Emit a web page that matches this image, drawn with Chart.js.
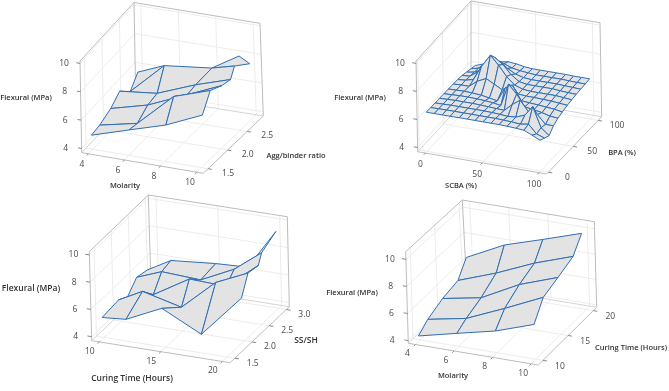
<!DOCTYPE html>
<html>
<head>
<meta charset="utf-8">
<title>Flexural surface plots</title>
<style>
  body { margin: 0; background: #fff; }
  canvas { display: block; }
</style>
<script src="https://cdn.jsdelivr.net/npm/chart.js@4"></script>
</head>
<body>
<canvas id="chart" width="669" height="391"></canvas>
<script>
'use strict';

// tick labels
const flexuralTicks = [4, 6, 8, 10];
const molarityTicks = [4, 6, 8, 10];
const aggBinderTicks = ['1.5', '2.0', '2.5'];
const scbaTicks = [0, 50, 100];
const bpaTicks = [0, 50, 100];
const curingTicks = [10, 15, 20];
const ssShTicks = ['1.5', '2.0', '2.5', '3.0'];

// top left: molarity / agg-binder ratio (rows run front to back)
const molarityA = [
  [4.02, 6.11, 8.16, 10.2],
  [4.06, 6.14, 8.17, 10.2],
  [4.12, 6.15, 8.32, 10.22],
  [4.17, 6.21, 8.31, 10.22],
  [4.53, 5.68, 8.24, 9.63]
];
const aggBinder = [
  [1.46, 1.46, 1.46, 1.46],
  [1.675, 1.675, 1.675, 1.675],
  [1.96, 1.96, 1.96, 1.96],
  [2.19, 2.19, 2.19, 2.19],
  [2.30, 2.66, 2.66, 2.58]
];
const flexuralA = [
  [4.80, 5.62, 6.41, 7.55],
  [4.95, 5.52, 7.85, 8.71],
  [5.38, 6.06, 7.25, 8.30],
  [6.00, 6.29, 7.34, 8.12],
  [5.77, 6.88, 7.26, 7.91]
];
// two small folds at the back edge of that surface
const foldLeftX = [[4.53, 5.68], [4.26, 5.68]];
const foldLeftY = [[2.30, 2.66], [2.66, 2.66]];
const foldLeftZ = [[5.77, 6.88], [6.12, 6.88]];
const foldRightX = [[8.24, 9.63], [9.72, 10.28]];
const foldRightY = [[2.66, 2.58], [2.66, 2.66]];
const foldRightZ = [[7.26, 7.91], [8.42, 8.00]];

// top right: SCBA / BPA
const scba = [0, 7, 14, 21, 29, 36, 43, 50, 57, 64, 71, 79, 86, 93, 100];
const bpa = [0, 9, 18, 27, 36, 45, 55, 64, 73, 82, 91, 100];
const flexuralB = [
  [6.49, 6.49, 6.49, 6.49, 6.50, 6.50, 6.50, 6.50, 6.50, 6.50, 6.48, 6.45, 6.40, 6.15, 5.89],
  [6.48, 6.49, 6.50, 6.50, 6.50, 6.50, 6.50, 6.50, 6.50, 6.48, 6.45, 6.40, 6.50, 5.90, 5.70],
  [6.47, 6.48, 6.50, 6.50, 6.50, 6.50, 6.50, 6.48, 6.45, 6.40, 6.45, 6.70, 7.40, 6.00, 5.54],
  [6.46, 6.48, 6.50, 6.50, 6.50, 6.48, 6.45, 6.42, 6.40, 6.90, 7.30, 6.50, 6.50, 5.90, 5.90],
  [6.45, 6.47, 6.50, 6.50, 6.48, 6.45, 6.40, 6.30, 7.90, 7.30, 6.50, 6.40, 6.30, 6.15, 6.10],
  [6.44, 6.46, 6.48, 6.45, 6.40, 6.30, 6.20, 7.20, 7.40, 6.50, 6.45, 6.40, 6.35, 6.30, 6.20],
  [6.42, 6.45, 6.45, 6.90, 7.20, 6.90, 6.60, 7.00, 6.50, 6.45, 6.45, 6.42, 6.40, 6.35, 6.30],
  [6.40, 6.45, 6.60, 7.60, 8.50, 7.90, 7.20, 6.70, 6.50, 6.45, 6.45, 6.45, 6.45, 6.40, 6.35],
  [6.35, 6.40, 6.80, 7.50, 8.00, 7.60, 7.00, 6.60, 6.50, 6.50, 6.50, 6.50, 6.45, 6.42, 6.40],
  [6.25, 6.35, 6.60, 7.00, 7.40, 7.00, 6.70, 6.55, 6.50, 6.50, 6.50, 6.50, 6.47, 6.45, 6.42],
  [6.15, 6.30, 6.50, 6.70, 6.90, 6.70, 6.60, 6.55, 6.50, 6.50, 6.50, 6.50, 6.48, 6.46, 6.45],
  [6.05, 6.25, 6.45, 6.60, 6.70, 6.65, 6.55, 6.50, 6.50, 6.50, 6.50, 6.50, 6.48, 6.48, 6.48]
];

// bottom left: curing time / SS-SH
const curingC = [
  [10.0, 11.6, 14.2, 17.0, 20.0],
  [10.0, 11.8, 14.8, 17.5, 20.0],
  [10.0, 11.9, 14.7, 17.5, 20.0],
  [10.0, 12.0, 15.1, 17.8, 20.0],
  [10.0, 11.8, 15.3, 17.8, 20.0]
];
const ssSh = [
  [1.46, 1.58, 1.70, 1.83, 1.95],
  [1.94, 2.00, 2.05, 2.10, 2.15],
  [2.20, 2.27, 2.33, 2.39, 2.45],
  [2.47, 2.49, 2.51, 2.53, 2.55],
  [2.78, 2.83, 2.88, 2.92, 2.97]
];
const flexuralC = [
  [5.26, 5.07, 5.96, 4.15, 6.94],
  [5.40, 6.14, 5.29, 7.37, 8.29],
  [5.02, 5.27, 6.67, 6.39, 8.13],
  [5.79, 6.44, 6.23, 7.35, 8.81],
  [5.59, 6.42, 6.57, 6.57, 9.36]
];

// bottom right: molarity / curing time
const molarityD = [4, 6, 8, 10];
const curingD = [9.7, 11.6, 14.6, 17.7, 19.5];
const flexuralD = [
  [4.20, 4.87, 5.52, 6.48],
  [4.74, 5.29, 6.52, 7.83],
  [5.21, 5.75, 7.25, 8.28],
  [5.44, 6.51, 7.78, 8.80],
  [6.56, 8.04, 8.98, 9.96]
];

// each panel: the box corners on the page, axis ranges and label placement
const panels = [
  {
    floor: [[81.7, 152.7], [203.3, 173.3], [263.3, 116], [135.7, 95.3]],
    top: [[80, 61], [201.6, 81.6], [260, 23.3], [134, 2.5]],
    xRange: [3.63, 10.37], yRange: [1.377, 2.915], zRange: [3.7, 10.17],
    grids: [
      [foldLeftX, foldLeftY, foldLeftZ],
      [foldRightX, foldRightY, foldRightZ],
      [molarityA, aggBinder, flexuralA]
    ],
    xTicks: molarityTicks, yTicks: aggBinderTicks,
    xOff: [-6.5, 10.5], yOff: [20, 4.5], zOff: [-16, 0],
    titleSize: 7.5,
    titles: [['Flexural (MPa)', 26, 98], ['Molarity', 125, 186], ['Agg/binder ratio', 296, 156]]
  },
  {
    floor: [[417.7, 151.7], [546.7, 174], [601.7, 116.7], [471, 94.3]],
    top: [[416, 61], [545, 83.3], [600, 22.7], [471, 1]],
    xRange: [-6.8, 106.8], yRange: [-3.3, 107.2], zRange: [3.7, 10.17],
    grids: [[scba, bpa, flexuralB]],
    xTicks: scbaTicks, yTicks: bpaTicks,
    xOff: [-5, 11.5], yOff: [19, 5], zOff: [-16, 0],
    titleSize: 7.5,
    titles: [['Flexural (MPa)', 360, 98], ['SCBA (%)', 461, 186], ['BPA (%)', 622, 153]]
  },
  {
    floor: [[91.7, 340.7], [230, 362.7], [289.3, 306.7], [151, 284.7]],
    top: [[89.3, 251.7], [227.7, 273.7], [287.3, 216.7], [148.3, 195]],
    xRange: [9.38, 20.62], yRange: [1.362, 3.086], zRange: [3.7, 10.24],
    grids: [[curingC, ssSh, flexuralC]],
    xTicks: curingTicks, yTicks: ssShTicks,
    xOff: [-9.5, 9.5], yOff: [18, 5], zOff: [-16, 0],
    titleSize: 8.5,
    titles: [['Flexural (MPa)', 31, 288.5], ['Curing Time (Hours)', 132, 379], ['SS/SH', 306, 341]]
  },
  {
    floor: [[408.3, 343.3], [538.3, 365], [596.7, 307.3], [466.7, 285.7]],
    top: [[405.7, 251.7], [537.7, 273.3], [594.3, 221.7], [462.3, 200]],
    xRange: [3.63, 10.37], yRange: [9.07, 20.67], zRange: [3.8, 10.56],
    grids: [[molarityD, curingD, flexuralD]],
    xTicks: molarityTicks, yTicks: curingTicks,
    xOff: [-8, 9.5], yOff: [17, 6], zOff: [-16, 0],
    titleSize: 7.5,
    titles: [['Flexural (MPa)', 352, 293], ['Molarity', 453, 376], ['Curing Time (Hours)', 631, 348]]
  }
];

function lerp(a, b, t) {
  return a + (b - a) * t;
}

// box position (u, v, w all 0..1) to page position
function boxPoint(p, u, v, w) {
  const corner = (c) => ({
    x: lerp(lerp(c[0][0], c[1][0], u), lerp(c[3][0], c[2][0], u), v),
    y: lerp(lerp(c[0][1], c[1][1], u), lerp(c[3][1], c[2][1], u), v)
  });
  const f = corner(p.floor);
  const t = corner(p.top);
  return { x: lerp(f.x, t.x, w), y: lerp(f.y, t.y, w) };
}

function ratio(range, value) {
  return (value - range[0]) / (range[1] - range[0]);
}

function gridValue(grid, r, c, rowAxis) {
  if (Array.isArray(grid[0])) return grid[r][c];
  return rowAxis ? grid[r] : grid[c];
}

const labels = [];
const wallLines = [];
const surfaces = [];

function addLine(list, a, b, color) {
  list.push({ data: [a, b], borderColor: color, borderWidth: 1, showLine: true, pointRadius: 0, fill: false });
}

panels.forEach((p) => {
  const gridColor = '#ececec';
  const frameColor = '#bcbcbc';
  const pt = (u, v, w) => boxPoint(p, u, v, w);
  const numbers = (list) => list.map(Number);

  numbers(p.xTicks).forEach((t) => {
    const u = ratio(p.xRange, t);
    addLine(wallLines, pt(u, 0, 0), pt(u, 1, 0), gridColor);
    addLine(wallLines, pt(u, 1, 0), pt(u, 1, 1), gridColor);
  });
  numbers(p.yTicks).forEach((t) => {
    const v = ratio(p.yRange, t);
    addLine(wallLines, pt(0, v, 0), pt(1, v, 0), gridColor);
    addLine(wallLines, pt(0, v, 0), pt(0, v, 1), gridColor);
  });
  flexuralTicks.forEach((t) => {
    const w = ratio(p.zRange, t);
    addLine(wallLines, pt(0, 0, w), pt(0, 1, w), gridColor);
    addLine(wallLines, pt(0, 1, w), pt(1, 1, w), gridColor);
  });

  // box outline
  addLine(wallLines, pt(0, 0, 0), pt(1, 0, 0), frameColor);
  addLine(wallLines, pt(1, 0, 0), pt(1, 1, 0), frameColor);
  addLine(wallLines, pt(1, 1, 0), pt(0, 1, 0), '#d4d4d4');
  addLine(wallLines, pt(0, 1, 0), pt(0, 0, 0), '#d4d4d4');
  addLine(wallLines, pt(0, 0, 0), pt(0, 0, 1), frameColor);
  addLine(wallLines, pt(0, 0, 1), pt(0, 1, 1), frameColor);
  addLine(wallLines, pt(0, 1, 1), pt(1, 1, 1), frameColor);
  addLine(wallLines, pt(0, 1, 0), pt(0, 1, 1), frameColor);
  addLine(wallLines, pt(1, 1, 0), pt(1, 1, 1), frameColor);

  // tick marks and their labels
  p.xTicks.forEach((t) => {
    const u = ratio(p.xRange, Number(t));
    const a = pt(u, 0, 0);
    addLine(wallLines, a, pt(u, -0.03, 0), '#888');
    labels.push([String(t), a.x + p.xOff[0], a.y + p.xOff[1], '8.5px "Open Sans"', '#4a4a4a']);
  });
  p.yTicks.forEach((t) => {
    const v = ratio(p.yRange, Number(t));
    const a = pt(1, v, 0);
    addLine(wallLines, a, pt(1.03, v, 0), '#888');
    labels.push([String(t), a.x + p.yOff[0], a.y + p.yOff[1], '8.5px "Open Sans"', '#4a4a4a']);
  });
  flexuralTicks.forEach((t) => {
    const w = ratio(p.zRange, t);
    const a = pt(0, 0, w);
    addLine(wallLines, a, pt(-0.03, 0, w), '#888');
    labels.push([String(t), a.x + p.zOff[0], a.y + p.zOff[1], '8.5px "Open Sans"', '#4a4a4a']);
  });
  p.titles.forEach((t) => labels.push([t[0], t[1], t[2], '600 ' + p.titleSize + 'px "Open Sans"', '#333']));

  // surface cells, far corner first
  p.grids.forEach((g) => {
    const xs = g[0];
    const ys = g[1];
    const zs = g[2];
    const node = (r, c) => pt(
      ratio(p.xRange, gridValue(xs, r, c, false)),
      ratio(p.yRange, gridValue(ys, r, c, true)),
      ratio(p.zRange, zs[r][c])
    );
    for (let r = zs.length - 2; r >= 0; r--) {
      for (let c = 0; c < zs[0].length - 1; c++) {
        surfaces.push({
          data: [node(r, c), node(r, c + 1), node(r + 1, c + 1), node(r + 1, c), node(r, c)],
          borderColor: '#2f6db3',
          borderWidth: 1,
          backgroundColor: '#e3e3e3',
          showLine: true,
          pointRadius: 0,
          tension: 0,
          fill: 'shape'
        });
      }
    }
  });
});

// chart.js paints the first dataset last, so flip the painter order
const datasets = wallLines.concat(surfaces).reverse();

const textPlugin = {
  id: 'panelText',
  afterDatasetsDraw(chart) {
    const ctx = chart.ctx;
    const xScale = chart.scales.x;
    const yScale = chart.scales.y;
    ctx.save();
    ctx.textAlign = 'center';
    ctx.textBaseline = 'middle';
    labels.forEach((l) => {
      ctx.font = l[3];
      ctx.fillStyle = l[4];
      ctx.fillText(l[0], xScale.getPixelForValue(l[1]), yScale.getPixelForValue(l[2]));
    });
    ctx.restore();
  }
};

new Chart(document.getElementById('chart'), {
  type: 'scatter',
  data: { datasets: datasets },
  options: {
    responsive: false,
    animation: false,
    layout: { padding: 0 },
    plugins: { legend: { display: false }, tooltip: { enabled: false } },
    scales: {
      x: { type: 'linear', display: false, min: 0, max: 669 },
      y: { type: 'linear', display: false, min: 0, max: 391, reverse: true }
    }
  },
  plugins: [textPlugin]
});
</script>
</body>
</html>
